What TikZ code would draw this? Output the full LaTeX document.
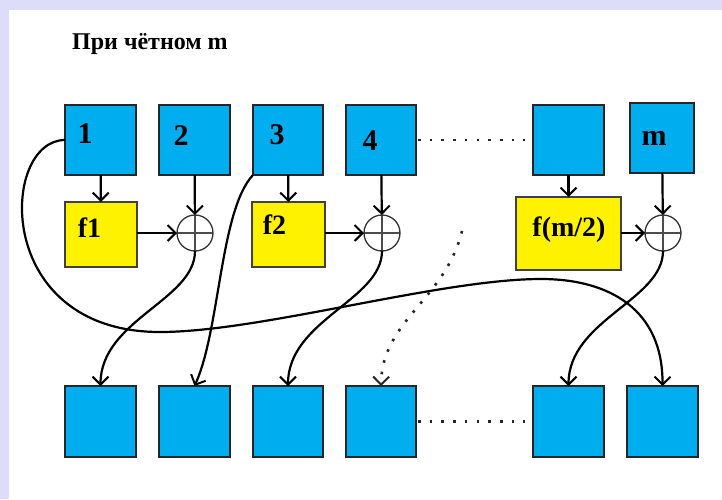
\documentclass[tikz,border=0pt]{standalone}
\usepackage{fontspec}
\setmainfont{Liberation Serif}
\usetikzlibrary{arrows.meta}
\definecolor{lav}{RGB}{221,221,250}
\definecolor{cellblue}{RGB}{0,173,239}
\definecolor{fyellow}{RGB}{255,242,0}
\begin{document}
\begin{tikzpicture}[x=1pt,y=-1pt,
  cell/.style={draw=black!85, fill=cellblue, line width=1.5pt,
    minimum width=71pt, minimum height=70pt, inner sep=0pt, outer sep=0pt},
  fbox/.style={draw=black!75, fill=fyellow, line width=1.5pt,
    inner sep=0pt, outer sep=0pt},
  num/.style={inner sep=0pt, font=\fontsize{30}{32}\selectfont\bfseries},
  flab/.style={inner sep=0pt, font=\fontsize{28}{30}\selectfont\bfseries},
  xor/.style={circle, draw=black!80, line width=1.3pt, minimum size=36pt,
    inner sep=0pt, outer sep=0pt,
    path picture={\draw[line width=1.3pt, black!70]
      (path picture bounding box.north) -- (path picture bounding box.south)
      (path picture bounding box.west) -- (path picture bounding box.east);}},
  tip/.style={-{Straight Barb[length=8pt,width=16pt,line width=2pt]}},
  link/.style={line width=2.2pt, tip},
  dots/.style={line width=2.6pt, line cap=butt,
    dash pattern=on 2.6pt off 9.1pt, black!85}
]
% page and frame
\fill[lav] (0,0) rectangle (722,499);
\fill[white] (9,10) rectangle (722,499);
\useasboundingbox (0,0) rectangle (722,499);

% heading
\node[anchor=base west, inner sep=0pt,
  font=\fontsize{24}{26}\selectfont\bfseries] (title) at (72,49) {При чётном m};

% input cells
\node[cell] (b1) at (100.5,140) {};
\node[cell] (b2) at (194.5,140) {};
\node[cell, minimum width=70pt] (b3) at (288,140) {};
\node[cell, minimum width=70pt] (b4) at (381,140) {};
\node[cell] (b5) at (568.5,140) {};
\node[cell, minimum width=64pt] (bm) at (662,138) {};
\node[num] (l1) at (85,134) {1};
\node[num] (l2) at (181,136) {2};
\node[num] (l3) at (277,135) {3};
\node[num] (l4) at (370,141) {4};
\node[num] (lm) at (654,138) {m};

% round functions
\node[fbox, minimum width=72pt, minimum height=65pt] (f1) at (101,234.5) {};
\node[fbox, minimum width=73pt, minimum height=65pt] (f2) at (288.5,234.5) {};
\node[fbox, minimum width=105pt, minimum height=73pt] (fm) at (568.5,233.5) {};
\node[flab] (tf1) at (89.5,228) {f1};
\node[flab] (tf2) at (274.5,225) {f2};
\node[flab] (tfm) at (569,230) {f(m/2)};

% xor junctions
\node[xor] (x1) at (195,233) {};
\node[xor] (x2) at (382,233) {};
\node[xor] (x3) at (663,233) {};

% output cells
\node[cell, minimum height=71pt] (c1) at (100.5,421.5) {};
\node[cell, minimum height=71pt] (c2) at (194.5,421.5) {};
\node[cell, minimum width=70pt, minimum height=71pt] (c3) at (288,421.5) {};
\node[cell, minimum width=70pt, minimum height=71pt] (c4) at (381,421.5) {};
\node[cell, minimum height=71pt] (c5) at (568.5,421.5) {};
\node[cell, minimum height=71pt] (c6) at (662.5,421.5) {};

% straight feeds
\draw[link] (b1) -- (f1);
\draw[link] (b3) -- (f2);
\draw[link] (b5) -- (fm);
\draw[link] (b2) -- (x1);
\draw[link] (b4) -- (x2);
\draw[link] (bm) -- (x3);
\draw[link] (f1.east |- x1.west) -- (x1.west);
\draw[link] (f2.east |- x2.west) -- (x2.west);
\draw[link] (fm.east |- x3.west) -- (x3.west);

% permutation wires
\draw[link] (b1.west) .. controls (0,140) and (-8,332) .. (160,332)
  .. controls (260,332) and (440,279) .. (541,279)
  .. controls (610,279) and (663,310) .. (c6.north);
\draw[link] (x1.south) .. controls (195,300) and (100.5,320) .. (c1.north);
\draw[link] (b3.south west) .. controls (220,210) and (220,330) .. (c2.north);
\draw[link] (x2.south) .. controls (382,300) and (288,320) .. (c3.north);
\draw[link] (x3.south) .. controls (663,300) and (568.5,320) .. (c5.north);

% elided parts
\coordinate (dstart) at (462,231);
\draw[dots, tip] (dstart) .. controls (445,300) and (382,320) .. (c4.north);
\draw[dots, shorten <=2pt, shorten >=8pt] (b4.east) -- (b5.west);
\draw[dots, shorten <=2pt, shorten >=8pt] (c4.east) -- (c5.west);
\end{tikzpicture}
\end{document}
